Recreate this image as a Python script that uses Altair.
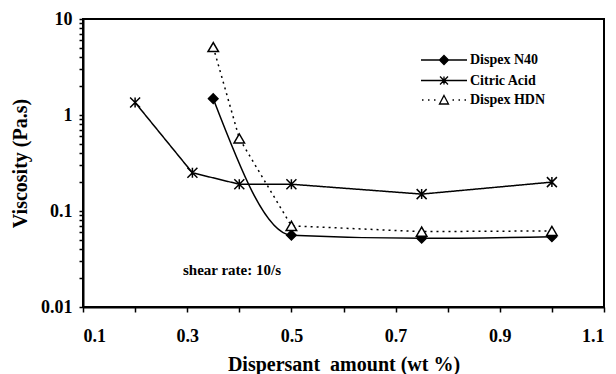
import altair as alt
import pandas as pd

# ---- data ----
N40_X = [0.35, 0.5, 0.75, 1.0]
N40_Y = [1.48, 0.056, 0.052, 0.054]

CITRIC_X = [0.2, 0.31, 0.4, 0.5, 0.75, 1.0]
CITRIC_Y = [1.35, 0.25, 0.19, 0.19, 0.15, 0.20]

HDN_X = [0.35, 0.4, 0.5, 0.75, 1.0]
HDN_Y = [5.1, 0.57, 0.07, 0.061, 0.062]

SERIES = ["Dispex N40", "Citric Acid", "Dispex HDN"]

X_TICKS = [0.1, 0.2, 0.3, 0.4, 0.5, 0.6, 0.7, 0.8, 0.9, 1.0, 1.1]
X_TICK_LABELS = ["0.1", "0.3", "0.5", "0.7", "0.9", "1.1"]
Y_MAJOR = [0.01, 0.1, 1, 10]
Y_TICKS = [m * k for m in [0.01, 0.1, 1] for k in range(1, 10)] + [10]

ANNOT_TEXT = ["shear rate: 10/s"]
ANNOT_X = [0.386]
ANNOT_Y = [0.0245]

FONT = "Liberation Serif"

rows = []
for name, xs, ys in [(SERIES[0], N40_X, N40_Y), (SERIES[1], CITRIC_X, CITRIC_Y), (SERIES[2], HDN_X, HDN_Y)]:
    for x, y in zip(xs, ys):
        rows.append({"series": name, "x": x, "y": y})
df = pd.DataFrame(rows)
annot = pd.DataFrame({"text": ANNOT_TEXT, "x": ANNOT_X, "y": ANNOT_Y})

x_enc = alt.X(
    "x:Q",
    scale=alt.Scale(domain=[0.1, 1.1], nice=False, zero=False),
    axis=alt.Axis(
        values=X_TICKS,
        labelExpr="indexof(" + str(X_TICK_LABELS) + ", format(datum.value, '.1f')) >= 0 ? format(datum.value, '.1f') : ''",
        title="Dispersant\u00a0 amount (wt %)",
        grid=False,
        tickSize=5,
        labelPadding=15,
        titlePadding=9,
    ),
)
y_enc = alt.Y(
    "y:Q",
    scale=alt.Scale(type="log", domain=[0.01, 10], nice=False),
    axis=alt.Axis(
        values=Y_TICKS,
        labelExpr="indexof(" + str(Y_MAJOR) + ", datum.value) >= 0 ? format(datum.value, '~g') : ''",
        title="Viscosity (Pa.s)",
        grid=False,
        tickSize=4,
        labelPadding=7,
        titlePadding=10,
    ),
)

base = alt.Chart(df)

n40_line = base.transform_filter(alt.datum.series == SERIES[0]).mark_line(
    interpolate="monotone", color="black", strokeWidth=1.5
).encode(x=x_enc, y=y_enc)

other_lines = base.transform_filter(alt.datum.series != SERIES[0]).mark_line(
    color="black", strokeWidth=1.5
).encode(
    x=x_enc,
    y=y_enc,
    detail="series:N",
    strokeDash=alt.StrokeDash(
        "series:N",
        scale=alt.Scale(domain=SERIES[1:], range=[[1, 0], [2, 4]]),
        legend=None,
    ),
)

STAR = "M-1,-1L1,1M1,-1L-1,1M0,-1L0,1"
points = base.mark_point(stroke="black", strokeWidth=1.5, opacity=1).encode(
    x=x_enc,
    y=y_enc,
    shape=alt.Shape("series:N", scale=alt.Scale(domain=SERIES, range=["diamond", STAR, "triangle-up"]), legend=None),
    fill=alt.Fill("series:N", scale=alt.Scale(domain=SERIES, range=["black", "transparent", "white"]), legend=None),
    size=alt.Size("series:N", scale=alt.Scale(domain=SERIES, range=[90, 110, 120]), legend=None),
)

LEG_N40 = "M-2.3,0L2.3,0M0,-0.45L0.45,0L0,0.45L-0.45,0Z"
LEG_CIT = "M-2.3,0L2.3,0M-0.4,-0.4L0.4,0.4M0.4,-0.4L-0.4,0.4M0,-0.4L0,0.4"
LEG_HDN = ("M-2.2,0L-2.05,0M-1.6,0L-1.45,0M-1.0,0L-0.85,0"
           "M0.85,0L1.0,0M1.45,0L1.6,0M2.05,0L2.2,0"
           "M0,-0.45L0.45,0.4L-0.45,0.4Z")

legend_layer = base.transform_filter("false").mark_point(strokeWidth=1.3, opacity=1).encode(
    x=x_enc,
    y=y_enc,
    shape=alt.Shape(
        "series:N",
        scale=alt.Scale(domain=SERIES, range=[LEG_N40, LEG_CIT, LEG_HDN]),
        legend=alt.Legend(
            title=None,
            orient="none",
            legendX=350,
            legendY=30,
            padding=0,
            symbolSize=400,
            rowPadding=1.5,
            labelOffset=15,
            labelFont=FONT,
            labelFontWeight="bold",
            labelFontSize=14,
            labelColor="black",
            symbolStrokeWidth=1.3,
        ),
    ),
    fill=alt.Fill("series:N", scale=alt.Scale(domain=SERIES, range=["black", "transparent", "white"]), legend=None),
    stroke=alt.Stroke("series:N", scale=alt.Scale(domain=SERIES, range=["black", "black", "black"]), legend=None),
)

text = alt.Chart(annot).mark_text(
    font=FONT, fontWeight="bold", fontSize=15, color="black"
).encode(x=alt.X("x:Q"), y=alt.Y("y:Q"), text="text:N")

chart = (
    alt.layer(n40_line, other_lines, points, legend_layer, text)
    .resolve_scale(shape="independent", fill="independent", stroke="independent")
    .properties(
        width=521,
        height=288,
        autosize=alt.AutoSizeParams(type="none"),
        padding={"left": 83, "top": 19, "right": 12, "bottom": 67},
        background="white",
    )
    .configure_view(stroke="black", strokeWidth=2)
    .configure_axis(
        domainColor="black",
        domainWidth=2,
        tickColor="black",
        tickWidth=1.5,
        labelFont=FONT,
        labelFontWeight="bold",
        labelFontSize=18,
        labelColor="black",
        titleFont=FONT,
        titleFontWeight="bold",
        titleFontSize=20,
        titleColor="black",
    )
)

chart.save("out.html", embed_options={"renderer": "svg", "actions": False})
